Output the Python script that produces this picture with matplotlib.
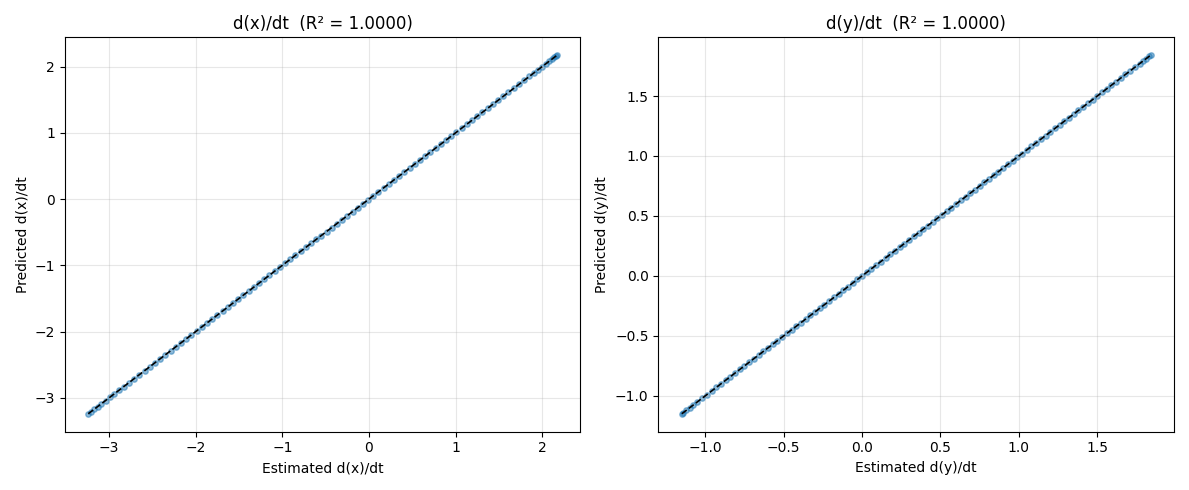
import matplotlib
matplotlib.use("Agg")
import matplotlib.pyplot as plt

est_dx = [-3.24, -3.21, -3.17, -3.13, -3.09, -3.04, -2.99, -2.94, -2.88, -2.83, -2.77, -2.71, -2.65, -2.59,
          -2.53, -2.47, -2.41, -2.35, -2.29, -2.23, -2.17, -2.11, -2.05, -1.99, -1.93, -1.87, -1.81, -1.75,
          -1.69, -1.63, -1.57, -1.51, -1.45, -1.39, -1.33, -1.27, -1.21, -1.15, -1.09, -1.03, -0.97, -0.91,
          -0.85, -0.79, -0.73, -0.67, -0.61, -0.55, -0.49, -0.43, -0.37, -0.31, -0.25, -0.19, -0.13, -0.07,
          -0.01, 0.05, 0.11, 0.17, 0.23, 0.29, 0.35, 0.41, 0.47, 0.53, 0.59, 0.65, 0.71, 0.77, 0.83, 0.89,
          0.95, 1.01, 1.07, 1.13, 1.19, 1.25, 1.31, 1.37, 1.43, 1.49, 1.55, 1.61, 1.67, 1.73, 1.79, 1.85,
          1.90, 1.95, 2.00, 2.04, 2.08, 2.11, 2.14, 2.16, 2.17]
pred_dx = [-3.24, -3.21, -3.17, -3.13, -3.09, -3.04, -2.99, -2.94, -2.88, -2.83, -2.77, -2.71, -2.65, -2.59,
           -2.53, -2.47, -2.41, -2.35, -2.29, -2.23, -2.17, -2.11, -2.05, -1.99, -1.93, -1.87, -1.81, -1.75,
           -1.69, -1.63, -1.57, -1.51, -1.45, -1.39, -1.33, -1.27, -1.21, -1.15, -1.09, -1.03, -0.97, -0.91,
           -0.85, -0.79, -0.73, -0.67, -0.61, -0.55, -0.49, -0.43, -0.37, -0.31, -0.25, -0.19, -0.13, -0.07,
           -0.01, 0.05, 0.11, 0.17, 0.23, 0.29, 0.35, 0.41, 0.47, 0.53, 0.59, 0.65, 0.71, 0.77, 0.83, 0.89,
           0.95, 1.01, 1.07, 1.13, 1.19, 1.25, 1.31, 1.37, 1.43, 1.49, 1.55, 1.61, 1.67, 1.73, 1.79, 1.85,
           1.90, 1.95, 2.00, 2.04, 2.08, 2.11, 2.14, 2.16, 2.17]
est_dy = [-1.15, -1.14, -1.12, -1.10, -1.08, -1.05, -1.02, -0.99, -0.96, -0.93, -0.90, -0.87, -0.84, -0.81,
          -0.78, -0.75, -0.72, -0.69, -0.66, -0.63, -0.60, -0.57, -0.54, -0.51, -0.48, -0.45, -0.42, -0.39,
          -0.36, -0.33, -0.30, -0.27, -0.24, -0.21, -0.18, -0.15, -0.12, -0.09, -0.06, -0.03, 0.00, 0.03,
          0.06, 0.09, 0.12, 0.15, 0.18, 0.21, 0.24, 0.27, 0.30, 0.33, 0.36, 0.39, 0.42, 0.45, 0.48, 0.51,
          0.54, 0.57, 0.60, 0.63, 0.66, 0.69, 0.72, 0.75, 0.78, 0.81, 0.84, 0.87, 0.90, 0.93, 0.96, 0.99,
          1.02, 1.05, 1.08, 1.11, 1.14, 1.17, 1.20, 1.23, 1.26, 1.29, 1.32, 1.35, 1.38, 1.41, 1.44, 1.47,
          1.50, 1.53, 1.56, 1.59, 1.62, 1.65, 1.68, 1.71, 1.74, 1.77, 1.79, 1.81, 1.83, 1.84]
pred_dy = list(est_dy)

panels = [("d(x)/dt", est_dx, pred_dx, "x"), ("d(y)/dt", est_dy, pred_dy, "y")]
fig, axes = plt.subplots(1, 2, figsize=(11.89, 4.9), dpi=100)
for ax, (name, est, pred, v) in zip(axes, panels):
    ax.scatter(est, pred, s=15, alpha=0.5, color="C0")
    lo, hi = min(est), max(est)
    ax.plot([lo, hi], [lo, hi], "k--", lw=1.2)
    ax.set_title(f"{name}  (R² = 1.0000)")
    ax.set_xlabel(f"Estimated d({v})/dt")
    ax.set_ylabel(f"Predicted d({v})/dt")
    ax.grid(True, alpha=0.3)
fig.tight_layout()
fig.savefig("out.png")
